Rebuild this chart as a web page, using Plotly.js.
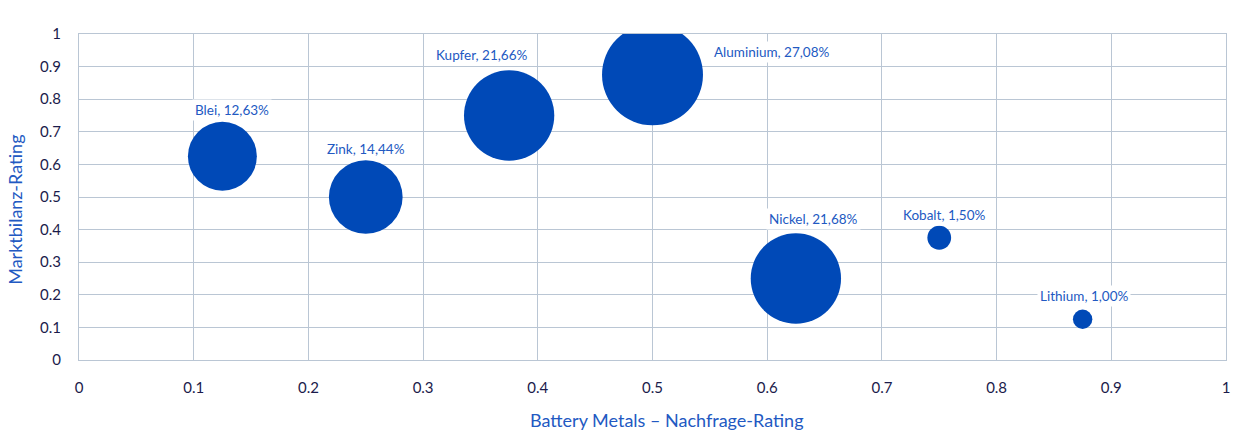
<!DOCTYPE html>
<html><head><meta charset="utf-8">
<script src="https://cdn.plot.ly/plotly-3.0.1.min.js"></script>
<style>html,body{margin:0;padding:0;background:#fff;}#chart{width:1237px;height:430px;}</style>
</head><body><div id="chart"></div>
<script>
const metals = ["Blei","Zink","Kupfer","Aluminium","Nickel","Kobalt","Lithium"];
const demandRating = [0.125,0.25,0.375,0.5,0.625,0.75,0.875];
const balanceRating = [0.625,0.5,0.75,0.875,0.25,0.375,0.125];
const shares = [12.63,14.44,21.66,27.08,21.68,1.50,1.00];
const shareLabels = ["12,63%","14,44%","21,66%","27,08%","21,68%","1,50%","1,00%"];
const xTitle = "Battery Metals – Nachfrage-Rating";
const yTitle = "Marktbilanz-Rating";

// label placement (pixel shifts from bubble centre) - styling only
const labelShift = [
  {xs:10,ys:46,xa:"center"},
  {xs:0,ys:48,xa:"center"},
  {xs:-28,ys:61,xa:"center"},
  {xs:58,ys:23,xa:"left"},
  {xs:18,ys:60,xa:"center"},
  {xs:5,ys:23,xa:"center"},
  {xs:1,ys:23,xa:"center"}
];

const blue = "#0049B7";
const labelColor = "#2259C2";
const gridColor = "#BAC6D4";
const tickColor = "#1B1B4B";
const fontFam = "Lato, 'Noto Sans', sans-serif";

const trace = {
  type: "scatter", mode: "markers",
  x: demandRating, y: balanceRating,
  marker: {size: shares, sizemode: "area", sizeref: 2/(19.4*19.4), color: blue, line: {width: 0}, opacity: 1},
  hoverinfo: "none"
};

const annotations = metals.map((m,i)=>({
  x: demandRating[i], y: balanceRating[i], xref: "x", yref: "y",
  text: m + ", " + shareLabels[i], showarrow: false,
  xshift: labelShift[i].xs, yshift: labelShift[i].ys, xanchor: labelShift[i].xa, yanchor: "middle",
  bgcolor: "#ffffff", borderpad: 2,
  font: {family: fontFam, size: 13.5, color: labelColor}
}));
annotations.push({
  x: 0.5126, y: -0.184, xref: "paper", yref: "paper", showarrow: false,
  text: xTitle, xanchor: "center", yanchor: "middle",
  font: {family: fontFam, size: 18, color: labelColor}
});
annotations.push({
  x: -0.056, y: 0.46, xref: "paper", yref: "paper", showarrow: false,
  text: yTitle, textangle: -90, xanchor: "center", yanchor: "middle",
  font: {family: fontFam, size: 18, color: labelColor}
});

const axisCommon = {
  range: [0,1], dtick: 0.1, tick0: 0, showgrid: true, gridcolor: gridColor, gridwidth: 1,
  zeroline: true, zerolinecolor: gridColor, zerolinewidth: 1,
  showline: true, linecolor: gridColor, linewidth: 1, mirror: true,
  ticks: "outside", tickcolor: "rgba(0,0,0,0)",
  tickfont: {family: fontFam, size: 15, color: tickColor},
  fixedrange: true
};

const layout = {
  width: 1237, height: 430,
  margin: {l: 79, r: 11, t: 34, b: 70},
  paper_bgcolor: "#ffffff", plot_bgcolor: "#ffffff",
  showlegend: false,
  xaxis: Object.assign({}, axisCommon, {ticklen: 14}),
  yaxis: Object.assign({}, axisCommon, {ticklen: 14}),
  annotations: annotations
};

Plotly.newPlot("chart", [trace], layout, {displayModeBar: false, staticPlot: true});
</script></body></html>
